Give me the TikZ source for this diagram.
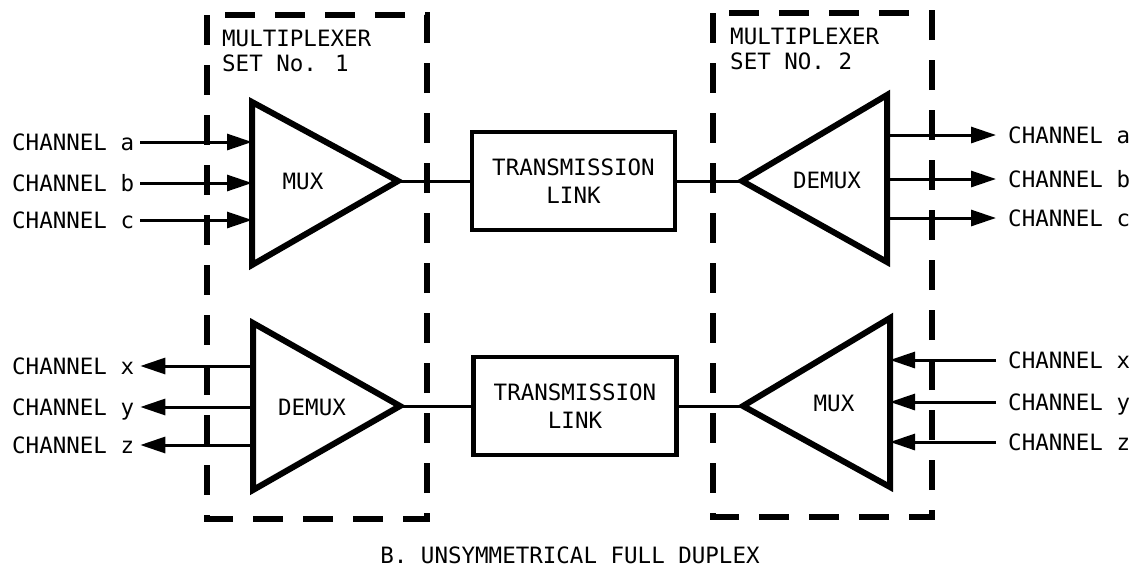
\documentclass[tikz,border=0pt]{standalone}
\usepackage{fontspec}
\setmainfont{DejaVu Sans Mono}
\usetikzlibrary{arrows.meta}
\begin{document}
\begin{tikzpicture}[x=1pt,y=-1pt,
  txt/.style={font=\fontsize{22.5}{25}\selectfont, inner ysep=0pt, inner xsep=6pt, text height=16pt, text depth=0pt},
  ttl/.style={font=\fontsize{22.5}{25}\selectfont, inner sep=0pt, align=left, anchor=north west},
  tri/.style={draw, line width=6pt, line join=miter},
  linkbox/.style={draw, line width=4.5pt, minimum width=203pt, minimum height=98pt, align=center,
                  font=\fontsize{22.5}{28}\selectfont, inner sep=0pt},
  wire/.style={line width=3pt},
  arr/.style={wire, -{Triangle[length=25pt,width=16pt]}},
  dbox/.style={line width=5.5pt, dash pattern=on 30pt off 20pt}
]
\useasboundingbox (0,0) rectangle (1135,571);

% dashed multiplexer sets
\draw[dbox] (207,15) rectangle (427,519);
\draw[dbox] (713,13) rectangle (932,517);
\node[ttl] (set1) at (222,30) {MULTIPLEXER\\SET No. 1};
\node[ttl] (set2) at (730,28) {MULTIPLEXER\\SET NO. 2};

% ---------- top path ----------
\coordinate (m1a) at (252,102);
\coordinate (m1b) at (252,265);
\coordinate (m1t) at (398,181);
\draw[tri] (m1a) -- (m1t) -- (m1b) -- cycle;
\node[txt] (mux1) at (303,181) {MUX};
\coordinate (m1i1) at (252,142);
\coordinate (m1i2) at (252,183);
\coordinate (m1i3) at (252,220);

\node[txt, anchor=west] (ca) at (6,142) {CHANNEL a};
\node[txt, anchor=west] (cb) at (6,183) {CHANNEL b};
\node[txt, anchor=west] (cc) at (6,220) {CHANNEL c};
\draw[arr] (ca.east) -- (m1i1);
\draw[arr] (cb.east) -- (m1i2);
\draw[arr] (cc.east) -- (m1i3);

\node[linkbox] (l1) at (573.5,181) {TRANSMISSION\\LINK};

\coordinate (d2t) at (742,181);
\coordinate (d2a) at (887,95);
\coordinate (d2b) at (887,262);
\draw[tri] (d2a) -- (d2t) -- (d2b) -- cycle;
\node[txt] (demux2) at (827,180) {DEMUX};
\coordinate (d2o1) at (887,135);
\coordinate (d2o2) at (887,179);
\coordinate (d2o3) at (887,218);

\node[txt, anchor=west] (ra) at (1002,135) {CHANNEL a};
\node[txt, anchor=west] (rb) at (1002,179) {CHANNEL b};
\node[txt, anchor=west] (rc) at (1002,218) {CHANNEL c};
\draw[arr, shorten >=6pt] (d2o1) -- (ra.west);
\draw[arr, shorten >=6pt] (d2o2) -- (rb.west);
\draw[arr, shorten >=6pt] (d2o3) -- (rc.west);

\draw[wire] (m1t) -- (l1.west);
\draw[wire] (l1.east) -- (d2t);

% ---------- bottom path ----------
\coordinate (d1a) at (253,323);
\coordinate (d1b) at (253,490);
\coordinate (d1t) at (400,406);
\draw[tri] (d1a) -- (d1t) -- (d1b) -- cycle;
\node[txt] (demux1) at (312,407) {DEMUX};
\coordinate (d1o1) at (253,366);
\coordinate (d1o2) at (253,407);
\coordinate (d1o3) at (253,445);

\node[txt, anchor=west] (cx) at (6,366) {CHANNEL x};
\node[txt, anchor=west] (cy) at (6,407) {CHANNEL y};
\node[txt, anchor=west] (cz) at (6,445) {CHANNEL z};
\draw[arr] (d1o1) -- (cx.east);
\draw[arr] (d1o2) -- (cy.east);
\draw[arr] (d1o3) -- (cz.east);

\node[linkbox] (l2) at (575,406) {TRANSMISSION\\LINK};

\coordinate (m2t) at (743,406);
\coordinate (m2a) at (890,318);
\coordinate (m2b) at (890,487);
\draw[tri] (m2a) -- (m2t) -- (m2b) -- cycle;
\node[txt] (mux2) at (834,403) {MUX};
\coordinate (m2i1) at (890,360);
\coordinate (m2i2) at (890,402);
\coordinate (m2i3) at (890,442);

\node[txt, anchor=west] (rx) at (1002,360) {CHANNEL x};
\node[txt, anchor=west] (ry) at (1002,402) {CHANNEL y};
\node[txt, anchor=west] (rz) at (1002,442) {CHANNEL z};
\draw[arr, shorten <=6pt] (rx.west) -- (m2i1);
\draw[arr, shorten <=6pt] (ry.west) -- (m2i2);
\draw[arr, shorten <=6pt] (rz.west) -- (m2i3);

\draw[wire] (d1t) -- (l2.west);
\draw[wire] (l2.east) -- (m2t);

% caption
\node[txt] (cap) at (570,555) {B. UNSYMMETRICAL FULL DUPLEX};
\end{tikzpicture}
\end{document}
